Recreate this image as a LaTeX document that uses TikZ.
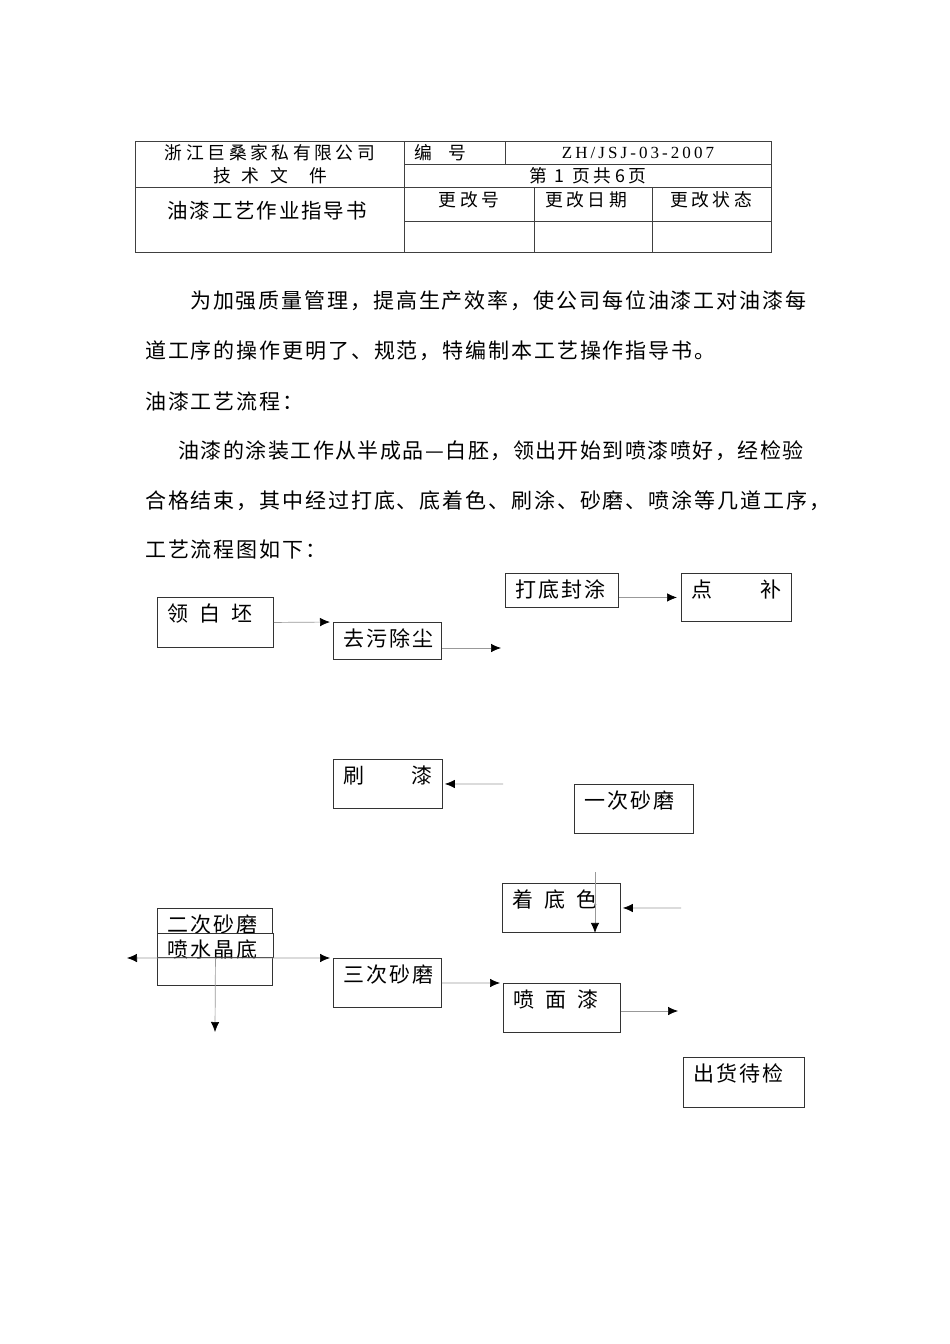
\documentclass[tikz,border=0pt]{standalone}
\usepackage{fontspec}
\setmainfont{Liberation Serif}
\newfontfamily\cjk{Noto Sans CJK SC}
\newfontfamily\cjkhdr[LetterSpace=20]{Noto Sans CJK SC}
\newfontfamily\cjkbody[LetterSpace=9]{Noto Sans CJK SC}
\newfontfamily\cjkbodytight[LetterSpace=7]{Noto Sans CJK SC}
\newfontfamily\latinwide[LetterSpace=18]{Liberation Serif}
\usetikzlibrary{arrows.meta, positioning}

\newcommand{\bodyfont}{\fontsize{21}{21}\selectfont\cjkbody}
\newcommand{\hdrfont}{\fontsize{17.8}{17.8}\selectfont\cjkhdr}

\tikzset{
  grid line/.style={draw=black!75, line width=0.9pt},
  stepbox/.style 2 args={draw=black!80, line width=0.9pt, anchor=north west,
    inner xsep=10pt, inner ysep=0pt, text width=#1, text height=24pt,
    text depth=#2, align=left, font=\bodyfont},
  flow/.style={draw=black!40, line width=0.7pt,
    -{Latex[length=10pt,width=8.5pt,color=black]}},
  bodyline/.style={anchor=base west, inner sep=0pt, font=\bodyfont},
  hdr/.style={inner sep=0pt, font=\hdrfont}
}

\begin{document}
\begin{tikzpicture}[x=1pt, y=-1pt]
  \useasboundingbox[fill=white] (0,0) rectangle (950,1344);

  % Header table
  \draw[grid line] (135,141) rectangle (771,252);
  \draw[grid line] (404,141) -- (404,252);
  \draw[grid line] (505,141) -- (505,164);
  \draw[grid line] (404,164) -- (771,164);
  \draw[grid line] (135,187) -- (771,187);
  \draw[grid line] (404,221) -- (771,221);
  \draw[grid line] (534,187) -- (534,252);
  \draw[grid line] (652,187) -- (652,252);

  \node[hdr] (company) at (270,153) {浙江巨桑家私有限公司};
  \node[hdr] (techdoc) at (270,176) {技\hspace{0.6em}术\hspace{0.6em}文\hspace{1.2em}件};
  \node[hdr, font=\fontsize{20.5}{20.5}\selectfont\cjkbody] (title) at (267,211) {油漆工艺作业指导书};
  \node[hdr, anchor=west] (numlabel) at (414,153) {编\hspace{0.9em}号};
  \node[hdr, font=\fontsize{17}{17}\selectfont\latinwide] (docnum) at (638,153) {ZH/JSJ-03-2007};
  \node[hdr] (pages) at (588,176) {第 1 页共6页};
  \node[hdr] (revno) at (469,200) {更改号};
  \node[hdr] (revdate) at (586,200) {更改日期};
  \node[hdr] (revstate) at (711,200) {更改状态};

  % Body text
  \node[bodyline] (para1) at (190,308) {为加强质量管理，提高生产效率，使公司每位油漆工对油漆每};
  \node[bodyline] (para2) at (145,358) {道工序的操作更明了、规范，特编制本工艺操作指导书。};
  \node[bodyline] (para3) at (145,409) {油漆工艺流程：};
  \node[bodyline, font=\fontsize{21}{21}\selectfont\cjkbodytight] (para4) at (178,458) {油漆的涂装工作从半成品—白胚，领出开始到喷漆喷好，经检验};
  \node[bodyline] (para5) at (145,508) {合格结束，其中经过打底、底着色、刷涂、砂磨、喷涂等几道工序，};
  \node[bodyline] (para6) at (145,557) {工艺流程图如下：};

  % Flow boxes
  \node[stepbox={96pt}{26pt}] (lingbai) at (157,597) {领\hspace{11pt}白\hspace{11pt}坯};
  \node[stepbox={88pt}{13pt}] (quwu) at (333,622) {去污除尘};
  \node[stepbox={93pt}{10pt}] (dadi) at (505,573) {打底封涂};
  \node[stepbox={90pt}{24pt}] (dianbu) at (681,573) {\hbox to\hsize{点\hfill 补}};
  \node[stepbox={89pt}{25pt}] (shuaqi) at (333,759) {\hbox to\hsize{刷\hfill 漆}};
  \node[stepbox={99pt}{25pt}] (yici) at (574,784) {一次砂磨};
  \node[stepbox={98pt}{25pt}] (zhedi) at (502,883) {着\hspace{11pt}底\hspace{11pt}色};
  \node[stepbox={95pt}{53pt}] (erci) at (157,908) {二次砂磨};
  \node[stepbox={96pt}{0pt}, fill=white] (penshui) at (157,933) {喷水晶底};
  \node[stepbox={88pt}{25pt}] (sanci) at (333,958) {三次砂磨};
  \node[stepbox={97pt}{25pt}] (penmian) at (503,983) {喷\hspace{11pt}面\hspace{11pt}漆};
  \node[stepbox={101pt}{26pt}] (chuhuo) at (683,1057) {出货待检};

  % Free ends
  \coordinate (quwuend) at (501,648);
  \coordinate (shuaend) at (503,784);
  \coordinate (zhediend) at (681,908);
  \coordinate (zhedivert) at (595,872);
  \coordinate (leftend) at (127,958);
  \coordinate (downend) at (215,1032);
  \coordinate (penmianend) at (678,1011);

  % Arrows
  \draw[flow, shorten >=3pt] (lingbai.east) -- (quwu.north west);
  \draw[flow] (quwu.east |- quwuend) -- (quwuend);
  \draw[flow, shorten >=4pt] (dadi.east |- dianbu.west) -- (dianbu.west);
  \draw[flow, shorten >=2pt] (shuaend) -- (shuaqi.east);
  \draw[flow, shorten >=2pt] (zhediend) -- (zhedi.east);
  \draw[flow] (zhedivert) -- (zhedivert |- zhedi.south);
  \draw[flow] (penshui.south) -- (leftend);
  \draw[flow, shorten >=3pt] (penshui.south) -- (sanci.north west);
  \draw[flow] (penshui.south) -- (downend);
  \draw[flow, shorten >=3pt] (sanci.east) -- (penmian.north west);
  \draw[flow] (penmian.east |- penmianend) -- (penmianend);
\end{tikzpicture}
\end{document}
